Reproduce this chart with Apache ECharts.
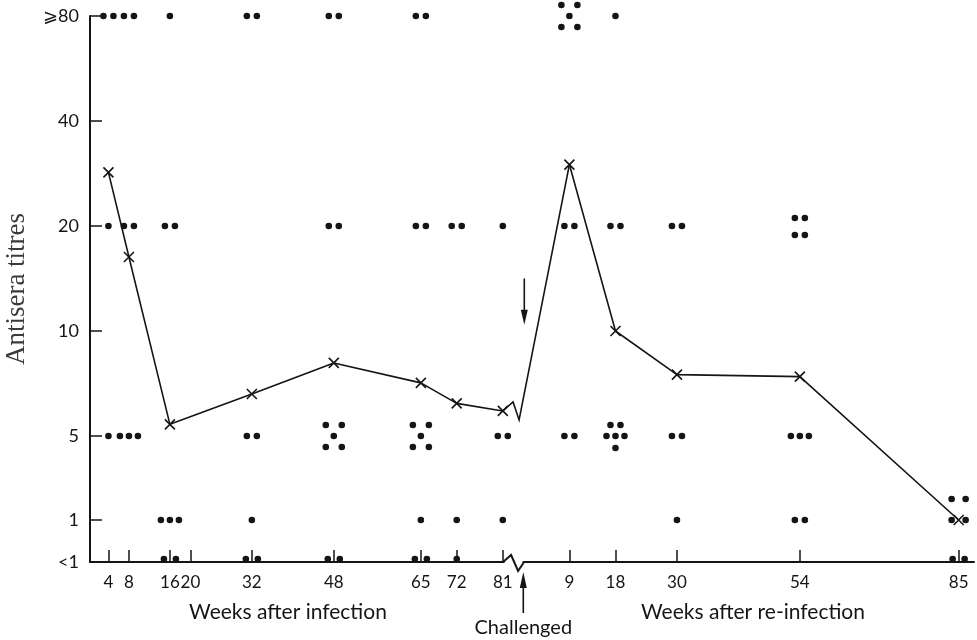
<!DOCTYPE html>
<html>
<head>
<meta charset="utf-8">
<script src="https://cdn.jsdelivr.net/npm/echarts@6/dist/echarts.min.js"></script>
<style>
  html, body { margin: 0; padding: 0; background: #fff; }
  #chart { width: 977px; height: 640px; }
</style>
</head>
<body>
<div id="chart"></div>
<script>
// ---------- DATA ----------
// tick labels
const infectionTickWeeks = [4, 8, 16, 20, 32, 48, 65, 72, 81];
const reinfectionTickWeeks = [9, 18, 30, 54, 85];
const titreTickLabels = ['<1', '1', '5', '10', '20', '40', '⩾80'];

// geometric mean titres (crosses joined by a line)
const infectionMeanWeeks = [4, 8, 16, 32, 48, 65, 72, 81];
const infectionMeanTitres = [28.5, 16.3, 5.4, 6.6, 8.1, 7.1, 6.2, 5.9];
const reinfectionMeanWeeks = [9, 18, 30, 54, 85];
const reinfectionMeanTitres = [30, 10, 7.5, 7.4, 1];

// individual sera: number of animals at each titre level, per bleed
const infectionDotWeeks = [4, 8, 16, 32, 48, 65, 72, 81];
const infectionGE80 = [2, 2, 1, 2, 2, 2, 0, 0];
const infection20   = [1, 2, 2, 0, 2, 2, 2, 1];
const infection5    = [1, 3, 0, 2, 5, 5, 0, 2];
const infection1    = [0, 0, 3, 1, 0, 1, 1, 1];
const infectionLT1  = [0, 0, 2, 2, 2, 2, 1, 0];

const reinfectionDotWeeks = [9, 18, 30, 54, 85];
const reinfectionGE80 = [5, 1, 0, 0, 0];
const reinfection20   = [2, 2, 2, 4, 0];
const reinfection5    = [2, 6, 2, 3, 0];
const reinfection1    = [0, 0, 1, 2, 4];
const reinfectionLT1  = [0, 0, 0, 0, 2];

// challenge happens at re-infection week 0
const challengeWeek = 0;

// ---------- LAYOUT HELPERS ----------
const reOffset = 85;      // position of re-infection week 0 on the shared axis
const breakPos = 83.3;    // where the axis is broken
const levelPos = { '<1': -1.2, '1': -0.8, '5': 0, '10': 1, '20': 2, '40': 3, '⩾80': 4 };
function titrePos(t) {
  if (t >= 5) return Math.log2(t / 5);
  if (t >= 1) return -0.8;
  return -1.2;
}
const yTickValues = titreTickLabels.map(l => levelPos[l]);
const xTickValues = infectionTickWeeks.concat(reinfectionTickWeeks.map(w => w + reOffset));
function xLabel(v) {
  const r = Math.round(v);
  return String(r > reOffset ? r - reOffset : r);
}
function yLabel(v) {
  for (const l of titreTickLabels) if (Math.abs(levelPos[l] - v) < 1e-6) return l;
  return '';
}

const dotData = [];
function addDots(weeks, counts, label, offset) {
  weeks.forEach((w, i) => { if (counts[i] > 0) dotData.push([w + offset, levelPos[label], counts[i]]); });
}
addDots(infectionDotWeeks, infectionGE80, '⩾80', 0);
addDots(infectionDotWeeks, infection20, '20', 0);
addDots(infectionDotWeeks, infection5, '5', 0);
addDots(infectionDotWeeks, infection1, '1', 0);
addDots(infectionDotWeeks, infectionLT1, '<1', 0);
addDots(reinfectionDotWeeks, reinfectionGE80, '⩾80', reOffset);
addDots(reinfectionDotWeeks, reinfection20, '20', reOffset);
addDots(reinfectionDotWeeks, reinfection5, '5', reOffset);
addDots(reinfectionDotWeeks, reinfection1, '1', reOffset);
addDots(reinfectionDotWeeks, reinfectionLT1, '<1', reOffset);

function dotPattern(n, level) {
  if (n === 1) return [[0, 0]];
  if (n === 2) return level < -1.1 ? [[-6, 0], [6, 0]] : [[-5, 0], [5, 0]];
  if (n === 3) return [[-9, 0], [0, 0], [9, 0]];
  if (n === 4) return level < 0 ? [[-7, -21], [7, -21], [-7, 0], [7, 0]]
                                : [[-5, -8], [5, -8], [-5, 9], [5, 9]];
  if (n === 5) return [[-8, -11], [8, -11], [0, 0], [-8, 11], [8, 11]];
  return [[-5, -11], [5, -11], [-9, 0], [0, 0], [9, 0], [0, 12]];
}

const infMeanData = infectionMeanWeeks.map((w, i) => [w, titrePos(infectionMeanTitres[i])]);
const reMeanData = reinfectionMeanWeeks.map((w, i) => [w + reOffset, titrePos(reinfectionMeanTitres[i])]);
const connectorData = [[infMeanData[infMeanData.length - 1][0], infMeanData[infMeanData.length - 1][1],
                        reMeanData[0][0], reMeanData[0][1]]];

const INK = '#151515';
const crossPath = 'path://M0,0L10,10M10,0L0,10';
const labelFont = 'Lato, "Open Sans", sans-serif';

const chart = echarts.init(document.getElementById('chart'), null, { renderer: 'canvas' });
chart.setOption({
  backgroundColor: '#ffffff',
  animation: false,
  grid: { left: 90, right: 3, top: 16, bottom: 78, containLabel: false, outerBoundsMode: 'none' },
  xAxis: {
    type: 'value', min: 0.4, max: 173,
    axisLine: { show: true, onZero: false, lineStyle: { color: INK, width: 2 } },
    axisTick: { show: true, inside: true, length: 12, customValues: xTickValues, lineStyle: { color: INK, width: 1.5 } },
    axisLabel: { customValues: xTickValues, formatter: xLabel, margin: 12, fontSize: 17, color: INK, fontFamily: labelFont },
    splitLine: { show: false }
  },
  yAxis: {
    type: 'value', min: -1.2, max: 4,
    name: 'Antisera titres', nameLocation: 'middle', nameRotate: 90, nameGap: 60,
    nameTextStyle: { fontFamily: '"Liberation Serif", "DejaVu Serif", serif', fontSize: 27, color: '#3a3a3a' },
    axisLine: { show: true, onZero: false, lineStyle: { color: INK, width: 2 } },
    axisTick: { show: true, inside: true, length: 12, customValues: yTickValues.filter(v => v > -1.1), lineStyle: { color: INK, width: 1.5 } },
    axisLabel: { customValues: yTickValues, formatter: yLabel, margin: 11, fontSize: 18, color: INK, fontFamily: labelFont },
    splitLine: { show: false }
  },
  graphic: [
    { type: 'text', x: 288, y: 612, style: { text: 'Weeks after infection', font: '21px ' + labelFont, fill: INK, align: 'center', verticalAlign: 'middle' } },
    { type: 'text', x: 753, y: 612, style: { text: 'Weeks after re-infection', font: '21px ' + labelFont, fill: INK, align: 'center', verticalAlign: 'middle' } }
  ],
  series: [
    {
      type: 'custom', name: 'sera', clip: false, z: 3,
      data: dotData,
      renderItem: function (params, api) {
        const lv = api.value(1);
        const c = api.coord([api.value(0), lv]);
        const dy = lv < -1.1 ? -3 : 0;
        const pts = dotPattern(api.value(2), lv);
        return {
          type: 'group',
          children: pts.map(p => ({
            type: 'circle',
            shape: { cx: c[0] + p[0], cy: c[1] + p[1] + dy, r: 3.3 },
            style: { fill: INK }
          }))
        };
      }
    },
    {
      type: 'line', name: 'mean infection', data: infMeanData, z: 4,
      symbol: crossPath, symbolSize: 10, showSymbol: true,
      lineStyle: { color: INK, width: 1.6 },
      itemStyle: { color: 'rgba(0,0,0,0)', borderColor: INK, borderWidth: 1.6 }
    },
    {
      type: 'line', name: 'mean re-infection', data: reMeanData, z: 4,
      symbol: crossPath, symbolSize: 10, showSymbol: true,
      lineStyle: { color: INK, width: 1.6 },
      itemStyle: { color: 'rgba(0,0,0,0)', borderColor: INK, borderWidth: 1.6 }
    },
    {
      type: 'custom', name: 'break', clip: false, z: 5,
      data: connectorData,
      renderItem: function (params, api) {
        const p1 = api.coord([api.value(0), api.value(1)]);
        const p2 = api.coord([api.value(2), api.value(3)]);
        const bx = api.coord([breakPos, 0])[0];
        const ay = api.coord([breakPos, -1.2])[1];
        return {
          type: 'group',
          children: [
            { type: 'polyline', shape: { points: [p1, [bx - 1.5, p1[1] - 9], [bx + 4.5, p1[1] + 9], p2] },
              style: { stroke: INK, lineWidth: 1.6, fill: null } },
            { type: 'rect', shape: { x: bx - 10, y: ay - 2.5, width: 18, height: 5 }, style: { fill: '#fff' } },
            { type: 'polyline', shape: { points: [[bx - 11.5, ay], [bx - 3.5, ay - 7], [bx + 3.5, ay + 9], [bx + 9.5, ay]] },
              style: { stroke: INK, lineWidth: 2, fill: null } }
          ]
        };
      }
    },
    {
      type: 'custom', name: 'challenge', clip: false, z: 5,
      data: [[challengeWeek + reOffset]],
      renderItem: function (params, api) {
        const x = api.coord([api.value(0), 0])[0];
        const ay = api.coord([api.value(0), -1.2])[1];
        const top = api.coord([api.value(0), 1.5])[1];
        const tip = api.coord([api.value(0), 1.06])[1];
        return {
          type: 'group',
          children: [
            { type: 'line', shape: { x1: x, y1: ay + 24, x2: x, y2: ay + 51 }, style: { stroke: INK, lineWidth: 1.6 } },
            { type: 'polygon', shape: { points: [[x, ay + 10], [x - 3.5, ay + 26], [x + 3.5, ay + 26]] }, style: { fill: INK } },
            { type: 'text', style: { x: x, y: ay + 66, text: 'Challenged', align: 'center', verticalAlign: 'middle',
                font: '20px ' + labelFont, fill: INK } },
            { type: 'line', shape: { x1: x + 1, y1: top, x2: x + 1, y2: tip - 12 }, style: { stroke: INK, lineWidth: 1.6 } },
            { type: 'polygon', shape: { points: [[x + 1, tip], [x - 2.5, tip - 15], [x + 4.5, tip - 15]] }, style: { fill: INK } }
          ]
        };
      }
    }
  ]
});
</script>
</body>
</html>
